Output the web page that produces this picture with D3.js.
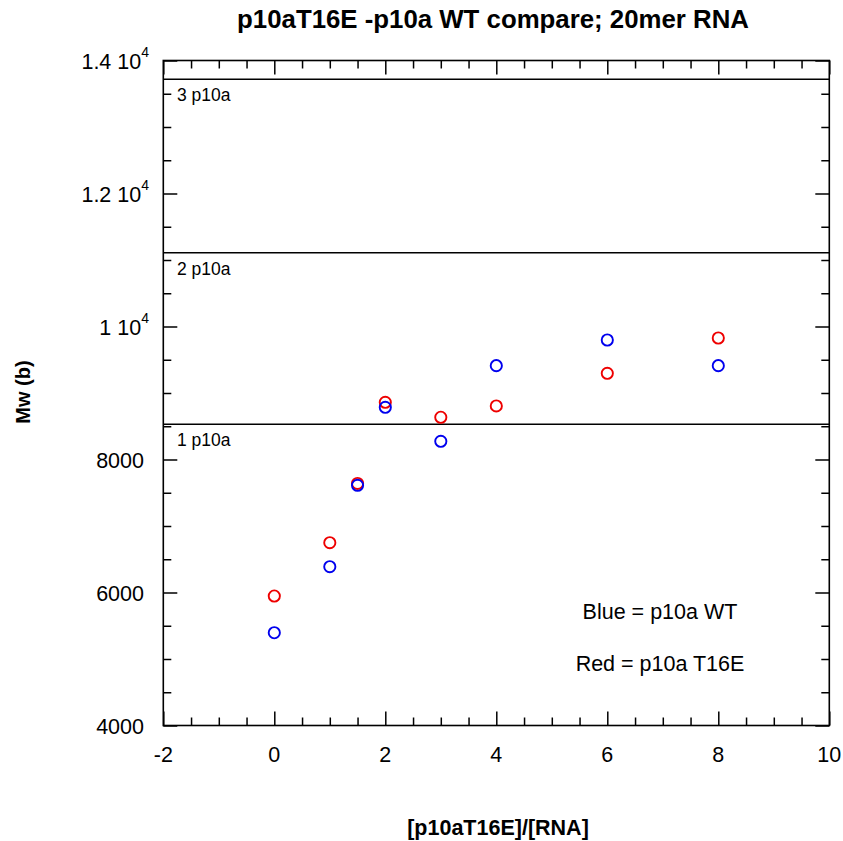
<!DOCTYPE html>
<html><head><meta charset="utf-8">
<script src="https://cdn.jsdelivr.net/npm/d3@7"></script>
<style>body{margin:0;background:#fff}</style>
</head><body>
<script>
// ---- data ----
const ratio = [0, 1, 1.5, 2, 3, 4, 6, 8];
const mwWT =   [5395, 6388, 7612, 8785, 8274, 9411, 9797, 9411];
const mwT16E = [5947, 6749, 7640, 8860, 8635, 8805, 9296, 9827];
const refLevels = [8530, 11110, 13717];
const refLabels = ["1 p10a", "2 p10a", "3 p10a"];
const xTicks = [-2, 0, 2, 4, 6, 8, 10];
const yTicks = [4000, 6000, 8000, 10000, 12000, 14000];
const yTickLabels = [["4000"], ["6000"], ["8000"], ["1 10", "4"], ["1.2 10", "4"], ["1.4 10", "4"]];
const titleText = "p10aT16E -p10a WT compare; 20mer RNA";
const xLabel = "[p10aT16E]/[RNA]";
const yLabel = "Mw (b)";
const legendTexts = ["Blue = p10a WT", "Red = p10a T16E"];

const W = 843, H = 841;
const m = {left: 163.3, right: 829.3, top: 60.5, bottom: 725.5};
const svg = d3.select("body").append("svg").attr("width", W).attr("height", H)
  .style("font-family", "'Liberation Sans', Arial, sans-serif");

const x = d3.scaleLinear().domain([-2, 10]).range([m.left, m.right]);
const y = d3.scaleLinear().domain([4000, 14000]).range([m.bottom, m.top]);

const xMinor = d3.range(-2, 10.001, 0.5).filter(v => Math.abs(v % 2) > 1e-6);
const yMinor = d3.range(4000, 14001, 500).filter(v => v % 2000 !== 0);

function tickAxis(gen, scale, pos, major, minor) {
  const g1 = svg.append("g").attr("transform", pos)
    .call(gen(scale).tickValues(major).tickSize(14).tickFormat(""));
  const g2 = svg.append("g").attr("transform", pos)
    .call(gen(scale).tickValues(minor).tickSize(8).tickFormat(""));
  [g1, g2].forEach(g => {
    g.select(".domain").remove();
    g.selectAll("line").attr("stroke", "#000").attr("stroke-width", 1.5);
  });
}
// ticks point inward
tickAxis(d3.axisTop, x, `translate(0,${m.bottom})`, xTicks, xMinor);
tickAxis(d3.axisBottom, x, `translate(0,${m.top})`, xTicks, xMinor);
tickAxis(d3.axisRight, y, `translate(${m.left},0)`, yTicks, yMinor);
tickAxis(d3.axisLeft, y, `translate(${m.right},0)`, yTicks, yMinor);

// frame
svg.append("rect").attr("x", m.left).attr("y", m.top)
  .attr("width", m.right - m.left).attr("height", m.bottom - m.top)
  .attr("fill", "none").attr("stroke", "#000").attr("stroke-width", 1.6);

// x tick labels
svg.append("g").selectAll("text").data(xTicks).join("text")
  .attr("x", d => x(d)).attr("y", 762).attr("text-anchor", "middle")
  .attr("font-size", 21.5).text(d => d);

// y tick labels
const yl = svg.append("g").selectAll("text").data(yTicks).join("text")
  .attr("x", (d, i) => (yTickLabels[i].length > 1 ? 149 : 144))
  .attr("y", d => y(d) + 8).attr("text-anchor", "end").attr("font-size", 21.5);
yl.each(function(d, i) {
  const t = d3.select(this);
  const parts = yTickLabels[i];
  t.append("tspan").text(parts[0]);
  if (parts.length > 1) {
    t.append("tspan").attr("dy", -12).attr("font-size", 14).text(parts[1]);
  }
});

// reference lines
svg.append("g").selectAll("line").data(refLevels).join("line")
  .attr("x1", m.left).attr("x2", m.right)
  .attr("y1", d => y(d)).attr("y2", d => y(d))
  .attr("stroke", "#000").attr("stroke-width", 1.6);
svg.append("g").selectAll("text").data(refLevels).join("text")
  .attr("x", 177).attr("y", d => y(d) + 22)
  .attr("font-size", 17.5).text((d, i) => refLabels[i]);

// points
const ptsWT = ratio.map((r, i) => ({x: r, y: mwWT[i]}));
const ptsT = ratio.map((r, i) => ({x: r, y: mwT16E[i]}));
svg.append("g").selectAll("circle").data(ptsT).join("circle")
  .attr("cx", d => x(d.x)).attr("cy", d => y(d.y)).attr("r", 5.6)
  .attr("fill", "none").attr("stroke", "#ee0000").attr("stroke-width", 1.9);
svg.append("g").selectAll("circle").data(ptsWT).join("circle")
  .attr("cx", d => x(d.x)).attr("cy", d => y(d.y)).attr("r", 5.6)
  .attr("fill", "none").attr("stroke", "#0000ee").attr("stroke-width", 1.9);

// legend texts
svg.append("g").selectAll("text").data(legendTexts).join("text")
  .attr("x", 660).attr("y", (d, i) => 619 + i * 52)
  .attr("text-anchor", "middle").attr("font-size", 21.5).text(d => d);

// title
svg.append("text").attr("x", 493).attr("y", 28).attr("text-anchor", "middle")
  .attr("font-size", 25.8).attr("font-weight", "bold").text(titleText);
// x label
svg.append("text").attr("x", 498).attr("y", 835).attr("text-anchor", "middle")
  .attr("font-size", 21.5).attr("font-weight", "bold").text(xLabel);
// y label
svg.append("text").attr("transform", "translate(30,392) rotate(-90)")
  .attr("text-anchor", "middle").attr("font-size", 20).attr("font-weight", "bold")
  .text(yLabel);
</script>
</body></html>
